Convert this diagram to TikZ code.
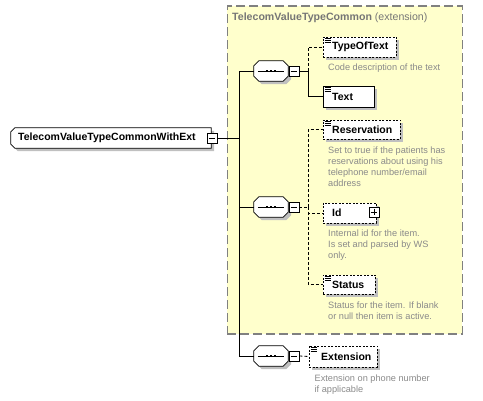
\documentclass[tikz,border=0pt]{standalone}
\usepackage{fontspec}
\setmainfont{Liberation Sans}
\usetikzlibrary{shadows}
\definecolor{yel}{HTML}{FFFFCC}
\definecolor{bord}{HTML}{808080}
\definecolor{doc}{HTML}{8A8A8A}
\definecolor{ttl}{HTML}{767676}
\definecolor{shad}{HTML}{C0C0C0}
\newcommand\octpath[1]{([xshift=5pt]#1.north west) -- ([xshift=-5pt]#1.north east) -- ([yshift=-5pt]#1.north east) -- ([yshift=5pt]#1.south east) -- ([xshift=-5pt]#1.south east) -- ([xshift=5pt]#1.south west) -- ([yshift=5pt]#1.south west) -- ([yshift=-5pt]#1.north west) -- cycle}
\newcommand\rootpath[1]{([xshift=4pt]#1.north west) -- (#1.north east) -- (#1.south east) -- ([xshift=4pt]#1.south west) -- ([yshift=4pt]#1.south west) -- ([yshift=-4pt]#1.north west) -- cycle}
\newcommand\docicon[1]{\foreach \dy in {2,4,6} \draw[line width=0.6pt] ([xshift=2pt,yshift=-\dy pt]#1.north west) -- ++(6,0);}
\newcommand\seqicon[1]{\draw[line width=0.9pt] ([xshift=4pt]#1.west) -- ([xshift=-4pt]#1.east);
  \foreach \dx in {-4,0,4} \fill ([xshift=\dx pt]#1.center) ++(-1.3,-1.3) rectangle ++(2.6,2.6);}
\tikzset{
  box/.style={rectangle, inner sep=0pt, draw=black, fill=white, line width=0.7pt,
    drop shadow={shadow xshift=3pt, shadow yshift=-3pt, fill=shad, opacity=1}},
  optbox/.style={box, dash pattern=on 2pt off 1.5pt},
  lbl/.style={anchor=west, inner sep=0pt, font=\fontsize{10.5}{12}\selectfont\bfseries},
  doctext/.style={anchor=north west, inner sep=0pt, align=left, text=doc, font=\fontsize{9.2}{11}\selectfont},
  ghost/.style={rectangle, inner sep=0pt},
  pmbox/.style={rectangle, inner sep=0pt, draw=black, fill=white, line width=0.8pt, minimum size=10pt},
  conn/.style={draw=black, line width=0.8pt},
  cdash/.style={conn, dash pattern=on 3pt off 2pt},
}
\begin{document}
\begin{tikzpicture}[x=1pt,y=-1pt]
\useasboundingbox (0,0) rectangle (483,401);
% extension frame
\node[ghost, draw=bord, fill=yel, line width=1.3pt, dash pattern=on 9pt off 4pt,
  minimum width=235pt, minimum height=328pt, anchor=north west] (frame) at (226.5,5.5) {};
\node[anchor=west, inner sep=0pt, text=ttl, font=\fontsize{10.6}{12}\selectfont] (title) at (232,18)
  {\textbf{TelecomValueTypeCommon} (extension)};

% root element
\node[ghost, minimum width=200pt, minimum height=20pt] (rootsh) at (114,141) {};
\fill[shad] \rootpath{rootsh};
\node[ghost, minimum width=200pt, minimum height=20pt] (root) at (111,138) {};
\filldraw[fill=white, draw=black, line width=0.7pt] \rootpath{root};
\node[lbl] (rootl) at (18,138) {TelecomValueTypeCommonWithExt};
\node[pmbox] (rootm) at (212,138) {};
\draw[line width=0.8pt] ([xshift=2pt]rootm.west) -- ([xshift=-2pt]rootm.east);

% sequences
\foreach \n/\y in {s1/71, s2/207, s3/356} {
  \node[ghost, minimum width=34pt, minimum height=20pt] (\n sh) at (274,\y+3) {};
  \fill[shad] \octpath{\n sh};
  \node[ghost, minimum width=34pt, minimum height=20pt] (\n) at (271,\y) {};
  \filldraw[fill=white, draw=black, line width=0.7pt] \octpath{\n};
  \seqicon{\n}
  \node[pmbox] (\n m) at (294,\y) {};
  \draw[line width=0.8pt] ([xshift=2pt]\n m.west) -- ([xshift=-2pt]\n m.east);
}

% children of sequence 1
\node[optbox, minimum width=73pt, minimum height=20pt] (tot) at (359.5,47) {};
\docicon{tot}
\node[lbl] (totl) at (332,47) {TypeOfText};
\node[doctext] (totd) at (328,63.5) {Code description of the text};
\node[box, minimum width=51pt, minimum height=21pt] (txt) at (348.5,96.5) {};
\docicon{txt}
\node[lbl] (txtl) at (332,97) {Text};

% children of sequence 2
\node[optbox, minimum width=77pt, minimum height=19pt] (res) at (361.5,129.5) {};
\docicon{res}
\node[lbl] (resl) at (332,130) {Reservation};
\node[doctext] (resd) at (328,146.5) {Set to true if the patients has\\reservations about using his\\telephone number/email\\address};
\node[optbox, minimum width=53pt, minimum height=20pt] (id) at (349.5,213) {};
\node[lbl] (idl) at (332,213) {Id};
\node[pmbox] (idp) at (374,212) {};
\draw[line width=0.8pt] ([xshift=2pt]idp.west) -- ([xshift=-2pt]idp.east) (idp.north) ++(0,2) -- ([yshift=2pt]idp.south);
\node[doctext] (idd) at (328,229.5) {Internal id for the item.\\Is set and parsed by WS\\only.};
\node[optbox, minimum width=52pt, minimum height=19pt] (stat) at (349,284.5) {};
\docicon{stat}
\node[lbl] (statl) at (332,285) {Status};
\node[doctext] (statd) at (328,301.5) {Status for the item. If blank\\or null then item is active.};

% child of sequence 3
\node[optbox, minimum width=68pt, minimum height=21pt] (ext) at (343,356.5) {};
\docicon{ext}
\node[lbl] (extl) at (321,357) {Extension};
\node[doctext] (extd) at (314.5,375) {Extension on phone number\\if applicable};

% connectors
\coordinate (tj) at (239,138);
\draw[conn] (rootm.east) -- (tj);
\draw[conn] (tj) |- (s1.west);
\draw[conn] (tj) |- (s2.west);
\draw[conn] (tj) |- (s3.west);
\coordinate (b1) at (308,71);
\draw[conn] (s1m.east) -- (b1);
\draw[cdash] (b1) |- (tot.west);
\draw[conn] (b1) |- (txt.west);
\coordinate (b2) at (308,207);
\draw[cdash] (s2m.east) -- (b2);
\draw[cdash] (b2) |- (res.west);
\draw[cdash] (b2) |- (id.west);
\draw[cdash] (b2) |- (stat.west);
\draw[cdash] (s3m.east) -- (ext.west);
\end{tikzpicture}
\end{document}
